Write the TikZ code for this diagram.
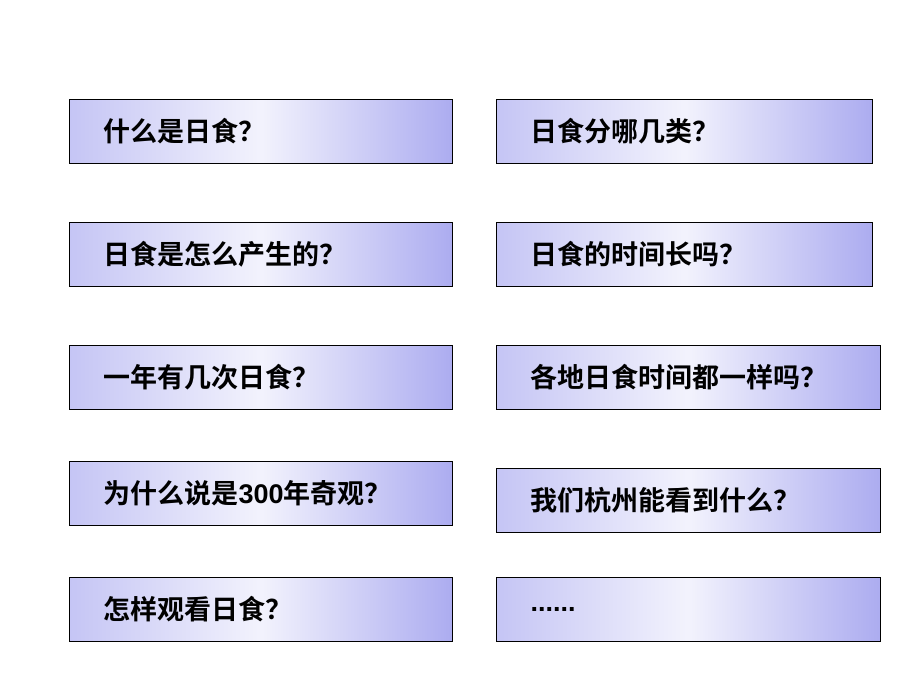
\documentclass[tikz,border=0pt]{standalone}
\usepackage{fontspec}
\setmainfont{Liberation Sans}
\newfontfamily\cjk{Noto Sans CJK SC}[BoldFont={Noto Sans CJK SC Bold}]
\definecolor{lav}{RGB}{172,172,240}
\tikzset{qbox/.style={draw=black,line width=1pt,anchor=north west,left color=lav!70,
  right color=lav,middle color=white!85!lav,minimum height=64pt,inner xsep=34pt,
  font=\cjk\bfseries\fontsize{27}{29}\selectfont,align=left}}
\begin{document}
\begin{tikzpicture}[x=1pt,y=-1pt]
\useasboundingbox (0,0) rectangle (920,690);
% left column
\node[qbox,text width=315pt] (a) at (69,99) {什么是日食？};
\node[qbox,text width=315pt] (b) at (69,222) {日食是怎么产生的？};
\node[qbox,text width=315pt] (c) at (69,345) {一年有几次日食？};
\node[qbox,text width=315pt] (d) at (69,461) {为什么说是{\rmfamily\bfseries 300}年奇观？};
\node[qbox,text width=315pt] (e) at (69,577) {怎样观看日食？};
% right column
\node[qbox,text width=308pt] (f) at (496,99) {日食分哪几类？};
\node[qbox,text width=308pt] (g) at (496,222) {日食的时间长吗？};
\node[qbox,text width=316pt] (h) at (496,345) {各地日食时间都一样吗？};
\node[qbox,text width=316pt] (i) at (496,468) {我们杭州能看到什么？};
\node[qbox,text width=316pt] (j) at (496,577) {{\rmfamily\bfseries ......}};
\end{tikzpicture}
\end{document}
